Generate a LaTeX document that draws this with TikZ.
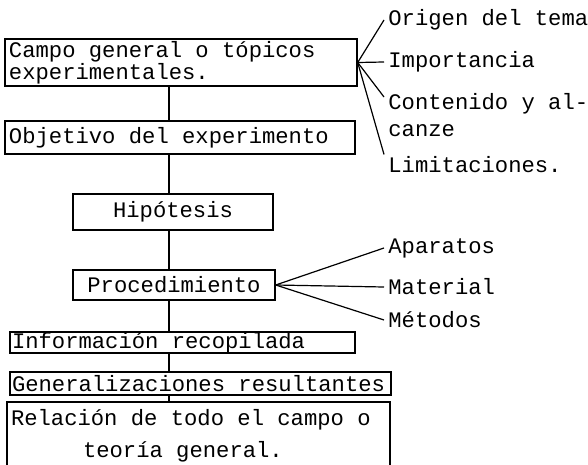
\documentclass[tikz,border=0pt]{standalone}
\usepackage{fontspec}
\newfontfamily\typewriter{Liberation Mono}

\begin{document}
\begin{tikzpicture}[x=0.5pt, y=-0.5pt,
    every node/.style={font=\typewriter\fontsize{11.1}{11}\selectfont},
    box/.style={draw, line width=0.7pt, inner xsep=2pt, inner ysep=0pt,
        execute at begin node={\spaceskip=0pt\relax}},
    leaf/.style={inner xsep=2pt, inner ysep=1pt, anchor=west},
    link/.style={line width=0.6pt}]
    \useasboundingbox (0,0) rectangle (588,465);
    \clip (0,0) rectangle (588,465);

    % Main chain of boxes
    \node[box, text width=172pt, align=left, minimum height=23.5pt] (campo) at (181,62.5)
        {Campo general o tópicos\\experimentales.};
    \node[box, text width=171pt, align=left, minimum height=16.5pt] (objetivo) at (180,137.5)
        {Objetivo del experimento};
    \node[box, minimum width=100pt, minimum height=18pt] (hipotesis) at (173,212) {Hipótesis};
    \node[box, minimum width=101pt, minimum height=15pt] (proced) at (174,285) {Procedimiento};
    \node[box, text width=170.5pt, align=left, inner xsep=1pt, minimum height=10.5pt] (info) at (182.5,342.5)
        {Información recopilada};
    \node[box, text width=188.5pt, align=left, inner xsep=1pt, minimum height=11.5pt] (general) at (200.5,383.5)
        {Generalizaciones resultantes};
    \node[box, text width=187.5pt, align=left, minimum height=34pt] (relacion) at (198.5,436)
        {Relación de todo el campo o\\[5pt]\hspace*{36pt}teoría general.};

    % Vertical spine
    \coordinate (spine) at (169,0);
    \draw[link] (campo.south -| spine) -- (objetivo.north -| spine);
    \draw[link] (objetivo.south -| spine) -- (hipotesis.north -| spine);
    \draw[link] (hipotesis.south -| spine) -- (proced.north -| spine);
    \draw[link] (proced.south -| spine) -- (info.north -| spine);
    \draw[link] (info.south -| spine) -- (general.north -| spine);
    \draw[link] (general.south -| spine) -- (relacion.north -| spine);

    % Topic aspects
    \node[leaf] (origen) at (384,20) {Origen del tema};
    \node[leaf] (importancia) at (384,62) {Importancia};
    \node[leaf, anchor=north west, align=left] (contenido) at (384,91) {Contenido y al-\\[2.5pt]canze};
    \node[leaf] (limitaciones) at (384,165) {Limitaciones.};
    \draw[link] (campo.east) -- (origen.west);
    \draw[link] (campo.east) -- (importancia.west);
    \draw[link] (campo.east) -- ([yshift=-3pt]contenido.north west);
    \draw[link] (campo.east) -- (limitaciones.north west);

    % Procedure parts
    \node[leaf] (aparatos) at (384,248) {Aparatos};
    \node[leaf] (material) at (384,287) {Material};
    \node[leaf] (metodos) at (384,320) {Métodos};
    \foreach \part in {aparatos, material, metodos}
        \draw[link] (proced.east) -- (\part.west);
\end{tikzpicture}
\end{document}
